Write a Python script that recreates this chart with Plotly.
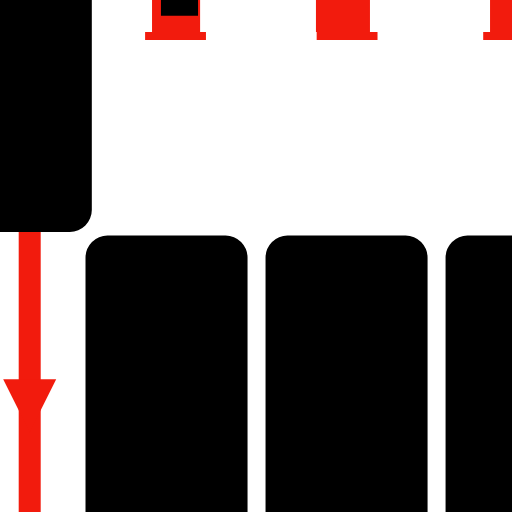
import plotly.graph_objects as go

# bar positions (category index) and values
bar_x = [1, 2, 3]
bar_height = [54.0, 54.0, 54.0]

# black bar hanging from the top (depth measured from the top edge) and its whisker
hang_x = [0.24]
hang_depth = [45.3]
whisker_top = [54.7]
whisker_low = [0.0]
arrow_at = [15.6]

# red hanging blocks at the top (body + foot) and the dark patch inside the first one
block_x = [1.053, 1.98, 2.947]
block_depth = [6.25, 6.25, 6.25]
foot_x = [1.05, 2.003, 2.928]
foot_depth = [7.8, 7.8, 7.8]
patch_x = [1.072]
patch_depth = [3.1]

RED = "#f21b0d"

fig = go.Figure()

fig.add_trace(go.Bar(x=bar_x, y=bar_height, width=0.9,
                     marker=dict(color="black", cornerradius=22, line_width=0)))

# hanging bars live on a reversed axis so they grow down from the top
fig.add_trace(go.Bar(x=hang_x, y=hang_depth, width=0.69, yaxis="y2",
                     marker=dict(color="black", cornerradius=22, line_width=0)))
fig.add_trace(go.Bar(x=foot_x, y=[f - b for f, b in zip(foot_depth, block_depth)],
                     base=block_depth, width=0.338, yaxis="y2",
                     marker=dict(color=RED, line_width=0)))
fig.add_trace(go.Bar(x=block_x, y=block_depth, width=[0.267, 0.3, 0.3], yaxis="y2",
                     marker=dict(color=RED, line_width=0)))
fig.add_trace(go.Bar(x=patch_x, y=patch_depth, width=0.206, yaxis="y2",
                     marker=dict(color="black", line_width=0)))

# whisker going down from the hanging bar
fig.add_trace(go.Scatter(x=hang_x, y=whisker_top, mode="markers",
                         marker=dict(size=1, opacity=0),
                         error_y=dict(type="data", symmetric=False, array=[0],
                                      arrayminus=[t - w for t, w in zip(whisker_top, whisker_low)],
                                      color=RED, thickness=22, width=0)))
fig.add_trace(go.Scatter(x=hang_x, y=arrow_at, mode="markers",
                         marker=dict(symbol="arrow-down", size=53, color=RED, line_width=0)))

fig.update_layout(width=512, height=512,
                  margin=dict(l=0, r=0, t=0, b=0),
                  barmode="overlay", showlegend=False,
                  plot_bgcolor="white", paper_bgcolor="white",
                  xaxis=dict(range=[0.075, 2.919], visible=False),
                  yaxis=dict(range=[0, 100], visible=False),
                  yaxis2=dict(range=[100, 0], overlaying="y", visible=False))

fig.write_html("out.html", config={"displayModeBar": False},
               post_script="document.body.style.margin='0';")
